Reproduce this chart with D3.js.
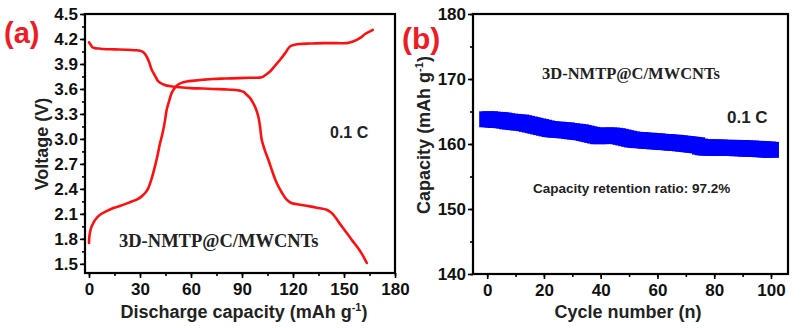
<!DOCTYPE html>
<html>
<head>
<meta charset="utf-8">
<script src="https://cdn.jsdelivr.net/npm/d3@7"></script>
<style>
  html, body { margin: 0; padding: 0; background: #fff; }
  svg { display: block; }
  .tick text { font-family: "Liberation Sans", Arial, sans-serif; font-weight: bold; font-size: 17px; fill: #111; }
  .domain { display: none; }
  .tick line { stroke: #000; stroke-width: 1.6px; }
</style>
</head>
<body>
<svg id="chart" width="812" height="328"></svg>
<script>
// (a) charge / discharge profiles at 0.1 C
const chargeCap  = [0, 0.3, 1.2, 2.5, 4.5, 6.5, 10, 14.3, 19, 24.1, 28, 31, 33, 34.9, 36.8, 38.8, 40.3, 41.8, 42.7, 43.7, 44.7, 45.7, 47.2, 48.6, 50, 51.6, 54, 57.5, 62, 67, 73, 80, 88, 95, 101.6, 104, 106.5, 109.5, 112.4, 115.4, 118.2, 121, 124, 130, 138, 146, 151.6, 154.5, 157.5, 160, 162.4, 164.7, 166.9];
const chargeVolt = [1.75, 1.84, 1.93, 1.99, 2.05, 2.09, 2.13, 2.17, 2.2, 2.24, 2.27, 2.31, 2.35, 2.41, 2.52, 2.67, 2.8, 2.95, 3.02, 3.11, 3.22, 3.35, 3.46, 3.55, 3.6, 3.64, 3.67, 3.69, 3.70, 3.71, 3.72, 3.725, 3.73, 3.735, 3.74, 3.77, 3.81, 3.88, 3.95, 4.03, 4.11, 4.13, 4.14, 4.145, 4.15, 4.15, 4.15, 4.165, 4.19, 4.22, 4.26, 4.285, 4.31];
const dischargeCap  = [0, 1, 2, 3.5, 6, 8.4, 15, 22, 27, 30, 32, 33.9, 35.4, 36.9, 38.8, 40.8, 43, 45.7, 49, 53.5, 60, 67, 73.1, 80, 85, 88.8, 91, 92.8, 94.8, 96.6, 98.2, 99.6, 100.6, 101.6, 103.5, 105.5, 108, 110.4, 113.3, 116.3, 119, 124.1, 130, 135, 139.8, 141.8, 143.7, 147.6, 151.6, 154.5, 157.5, 160.5, 163.4];
const dischargeVolt = [4.16, 4.13, 4.1, 4.09, 4.085, 4.08, 4.075, 4.07, 4.065, 4.06, 4.04, 3.99, 3.92, 3.83, 3.76, 3.69, 3.66, 3.64, 3.63, 3.62, 3.61, 3.605, 3.60, 3.595, 3.59, 3.58, 3.565, 3.53, 3.49, 3.43, 3.36, 3.27, 3.15, 2.99, 2.86, 2.75, 2.6, 2.47, 2.36, 2.27, 2.23, 2.21, 2.19, 2.17, 2.15, 2.125, 2.09, 1.98, 1.87, 1.79, 1.71, 1.62, 1.51];
const voltTicks = [1.5, 1.8, 2.1, 2.4, 2.7, 3.0, 3.3, 3.6, 3.9, 4.2, 4.5];
const capTicks  = [0, 30, 60, 90, 120, 150, 180];

// (b) cycling capacity at 0.1 C
const cycles = d3.range(0, 101);
const cycleCapacity = [
  163.8, 163.8, 163.75, 163.7, 163.7, 163.65, 163.6, 163.5, 163.45, 163.4,
  163.35, 163.3, 163.3, 163.2, 163.1, 163.0, 162.9, 162.8, 162.7, 162.6,
  162.5, 162.4, 162.3, 162.25, 162.2, 162.2, 162.15, 162.1, 162.1, 162.0,
  161.95, 161.9, 161.85, 161.8, 161.7, 161.6, 161.5, 161.4, 161.3, 161.2,
  161.2, 161.25, 161.3, 161.3, 161.3, 161.25, 161.2, 161.1, 161.0, 160.9,
  160.8, 160.7, 160.65, 160.6, 160.6, 160.55, 160.5, 160.5, 160.45, 160.4,
  160.4, 160.35, 160.3, 160.3, 160.25, 160.2, 160.2, 160.15, 160.1, 160.05,
  160.0, 159.95, 159.9, 159.85, 159.8, 159.6, 159.5, 159.45, 159.45, 159.45,
  159.45, 159.45, 159.45, 159.4, 159.4, 159.4, 159.4, 159.4, 159.35, 159.35,
  159.35, 159.3, 159.3, 159.3, 159.25, 159.25, 159.2, 159.2, 159.15, 159.15, 159.1
];
const cycleTicks = [0, 20, 40, 60, 80, 100];
const capacityTicks = [140, 150, 160, 170, 180];

const svg = d3.select("#chart");
const SANS = '"Liberation Sans", Arial, sans-serif';
const SERIF = '"Liberation Serif", "Times New Roman", serif';

function frame(g, x, y, minorX, minorY, xTicks, yTicks, yFmt) {
  const [x0, x1] = x.range();
  const [y0, y1] = y.range();
  g.append("g").attr("transform", `translate(0,${y0})`)
    .call(d3.axisBottom(x).tickValues(minorX).tickSize(3).tickFormat(""));
  g.append("g").attr("transform", `translate(0,${y0})`)
    .call(d3.axisBottom(x).tickValues(xTicks).tickSize(5).tickPadding(5).tickFormat(d3.format("d")));
  g.append("g").attr("transform", `translate(${x0},0)`)
    .call(d3.axisLeft(y).tickValues(minorY).tickSize(3).tickFormat(""));
  g.append("g").attr("transform", `translate(${x0},0)`)
    .call(d3.axisLeft(y).tickValues(yTicks).tickSize(5).tickPadding(2).tickFormat(yFmt));
  g.append("rect")
    .attr("x", x0).attr("y", y1)
    .attr("width", x1 - x0).attr("height", y0 - y1)
    .attr("fill", "none").attr("stroke", "#000").attr("stroke-width", 2.2);
}

// ---- panel (a)
const xa = d3.scaleLinear().domain([-2.35, 180]).range([85, 395]);
const ya = d3.scaleLinear().domain([1.39, 4.5]).range([273, 14]);
const ga = svg.append("g");

const line = d3.line().curve(d3.curveCatmullRom.alpha(0.5));
[[chargeCap, chargeVolt], [dischargeCap, dischargeVolt]].forEach(([cx, cy]) => {
  ga.append("path")
    .attr("d", line(cx.map((c, i) => [xa(c), ya(cy[i])])))
    .attr("fill", "none").attr("stroke", "#ff1010")
    .attr("stroke-width", 2.6).attr("stroke-linejoin", "round").attr("stroke-linecap", "round");
});
frame(ga, xa, ya, d3.range(0, 181, 15), d3.range(1.5, 4.51, 0.15),
      capTicks, voltTicks, d3.format(".1f"));

ga.append("text").attr("x", 4).attr("y", 43)
  .attr("font-family", SANS).attr("font-weight", "bold").attr("font-size", 29)
  .attr("fill", "#ee1c24").text("(a)");
ga.append("text").attr("transform", "translate(48,144) rotate(-90)")
  .attr("text-anchor", "middle").attr("font-family", SANS).attr("font-weight", "bold")
  .attr("font-size", 18).attr("fill", "#222").text("Voltage (V)");
const xla = ga.append("text").attr("x", 244).attr("y", 318)
  .attr("text-anchor", "middle").attr("font-family", SANS).attr("font-weight", "bold")
  .attr("font-size", 18).attr("fill", "#222");
xla.append("tspan").text("Discharge capacity (mAh g");
xla.append("tspan").attr("dy", -7).attr("font-size", 11).text("-1");
xla.append("tspan").attr("dy", 7).text(")");
ga.append("text").attr("x", 330).attr("y", 138)
  .attr("font-family", SANS).attr("font-weight", "bold").attr("font-size", 16)
  .attr("fill", "#222").text("0.1 C");
ga.append("text").attr("x", 119).attr("y", 247)
  .attr("font-family", SERIF).attr("font-weight", "bold").attr("font-size", 18.5)
  .attr("fill", "#222").text("3D-NMTP@C/MWCNTs");

// ---- panel (b)
const xb = d3.scaleLinear().domain([-5, 106]).range([473, 788]);
const yb = d3.scaleLinear().domain([140, 180]).range([274, 14]);
const gb = svg.append("g");
const sq = 16;
gb.append("g").selectAll("rect").data(cycles).join("rect")
  .attr("x", d => xb(d) - sq / 2)
  .attr("y", (d, i) => yb(cycleCapacity[i]) - sq / 2)
  .attr("width", sq).attr("height", sq)
  .attr("fill", "#0000ff");
frame(gb, xb, yb, d3.range(0, 101, 10), d3.range(140, 181, 5),
      cycleTicks, capacityTicks, d3.format("d"));

gb.append("text").attr("x", 402).attr("y", 49)
  .attr("font-family", SANS).attr("font-weight", "bold").attr("font-size", 30)
  .attr("fill", "#ee1c24").text("(b)");
const yl = gb.append("text").attr("transform", "translate(430,135) rotate(-90)")
  .attr("text-anchor", "middle").attr("font-family", SANS).attr("font-weight", "bold")
  .attr("font-size", 18).attr("fill", "#222");
yl.append("tspan").text("Capacity (mAh g");
yl.append("tspan").attr("dy", -7).attr("font-size", 11).text("-1");
yl.append("tspan").attr("dy", 7).text(")");
gb.append("text").attr("x", 628).attr("y", 318)
  .attr("text-anchor", "middle").attr("font-family", SANS).attr("font-weight", "bold")
  .attr("font-size", 18).attr("fill", "#222").text("Cycle number (n)");
gb.append("text").attr("x", 542).attr("y", 79)
  .attr("font-family", SERIF).attr("font-weight", "bold").attr("font-size", 16.5)
  .attr("fill", "#222").text("3D-NMTP@C/MWCNTs");
gb.append("text").attr("x", 727).attr("y", 123)
  .attr("font-family", SANS).attr("font-weight", "bold").attr("font-size", 17)
  .attr("fill", "#222").text("0.1 C");
gb.append("text").attr("x", 533).attr("y", 193)
  .attr("font-family", SANS).attr("font-weight", "bold").attr("font-size", 13.5)
  .attr("fill", "#222").text("Capacity retention ratio: 97.2%");
</script>
</body>
</html>
